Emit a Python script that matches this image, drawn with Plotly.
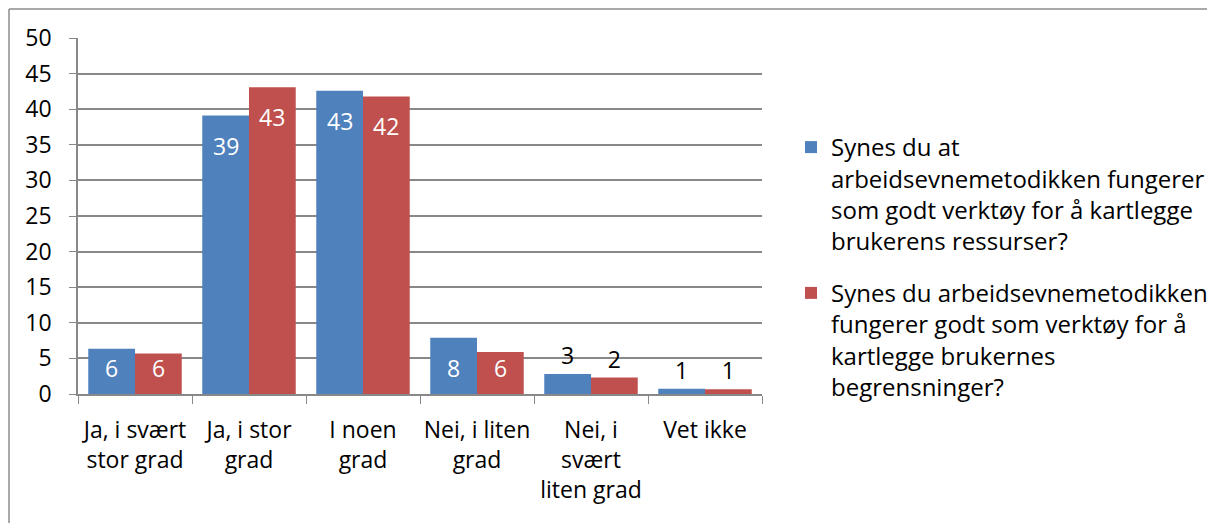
import plotly.graph_objects as go

categories = ["Ja, i svært<br>stor grad", "Ja, i stor<br>grad", "I noen<br>grad",
              "Nei, i liten<br>grad", "Nei, i<br>svært<br>liten grad", "Vet ikke"]
series1_name = "Synes du at<br>arbeidsevnemetodikken fungerer<br>som godt verktøy for å kartlegge<br>brukerens ressurser?"
series2_name = "Synes du arbeidsevnemetodikken<br>fungerer godt som verktøy for å<br>kartlegge brukernes<br>begrensninger?"
series1 = [6.35, 39.1, 42.6, 7.9, 2.8, 0.74]
series2 = [5.7, 43.1, 41.8, 5.9, 2.3, 0.65]
y_ticks = [0, 5, 10, 15, 20, 25, 30, 35, 40, 45, 50]

FONT = "Open Sans, sans-serif"
FS = 23
LFS = 24
inside = [True, True, True, True, False, False]
colors = ["#4F81BD", "#C0504D"]

# page body has an 8px margin, so the figure is 8px smaller than the window
W, H = 1207, 515
L, R, T, B = 70, 754, 30, 386
YMAX = 50
BARGAP = 0.18
px_per_unit = (B - T) / YMAX
cat_px = (R - L) / len(categories)
bar_px = cat_px * (1 - BARGAP) / 2

fig = go.Figure()
for s, (name, vals) in enumerate([(series1_name, series1), (series2_name, series2)]):
    fig.add_trace(go.Bar(
        x=categories, y=vals, name=name, legendgroup=f"g{s}",
        marker=dict(color=colors[s], line=dict(width=0)),
        texttemplate="%{y:.0f}",
        textposition=["none" if ins else "outside" for ins in inside], textangle=0,
        outsidetextfont=dict(color="black", size=FS, family=FONT),
        constraintext="none", cliponaxis=False,
        hoverinfo="skip",
    ))
    # inside-end labels (white), placed like the original's data labels
    for i, (c, v) in enumerate(zip(categories, vals)):
        if not inside[i]:
            continue
        drop = min(30, v * px_per_unit - 26)
        fig.add_annotation(x=c, y=v, xref="x", yref="y", text=f"{v:.0f}", showarrow=False,
                           xshift=(s - 0.5) * bar_px, yshift=-drop, yanchor="middle",
                           font=dict(color="white", size=FS, family=FONT))

def px2paper_x(px):
    return (px - L) / (R - L)

def px2paper_y(py):
    return (B - py) / (B - T)

# top and left outer border
fig.add_shape(type="line", xref="paper", yref="paper",
              x0=px2paper_x(1), x1=px2paper_x(W + 5), y0=px2paper_y(1), y1=px2paper_y(1),
              line=dict(color="#8C8C8C", width=1.5))
fig.add_shape(type="line", xref="paper", yref="paper",
              x0=px2paper_x(1), x1=px2paper_x(1), y0=px2paper_y(1), y1=px2paper_y(H + 5),
              line=dict(color="#8C8C8C", width=1.5))

fig.update_layout(
    template="none",
    width=W, height=H,
    margin=dict(l=L, r=W - R, t=T, b=H - B, pad=0, autoexpand=False),
    paper_bgcolor="white", plot_bgcolor="white",
    barmode="group", bargap=BARGAP, bargroupgap=0,
    font=dict(family=FONT, size=FS, color="black"),
    showlegend=True,
    legend=dict(x=px2paper_x(783), y=px2paper_y(117), xanchor="left", yanchor="top",
                valign="top", tracegroupgap=18, itemwidth=30, traceorder="grouped",
                font=dict(family=FONT, size=LFS, color="black"),
                bgcolor="rgba(0,0,0,0)", borderwidth=0),
    yaxis=dict(range=[0, YMAX], tickvals=y_ticks, showgrid=True, gridcolor="#888888", gridwidth=1.5,
               showline=True, linecolor="#888888", linewidth=1.5, ticks="outside", ticklen=7,
               tickcolor="#888888", zeroline=False, tickfont=dict(size=FS, family=FONT),
               ticklabelstandoff=13, automargin=False),
    xaxis=dict(showline=True, linecolor="#888888", linewidth=1.5, ticks="outside", ticklen=8,
               tickcolor="#888888", tickson="boundaries", tickfont=dict(size=FS, family=FONT),
               ticklabelstandoff=15, tickangle=0, automargin=False, showgrid=False),
)

fig.write_html("out.html")
